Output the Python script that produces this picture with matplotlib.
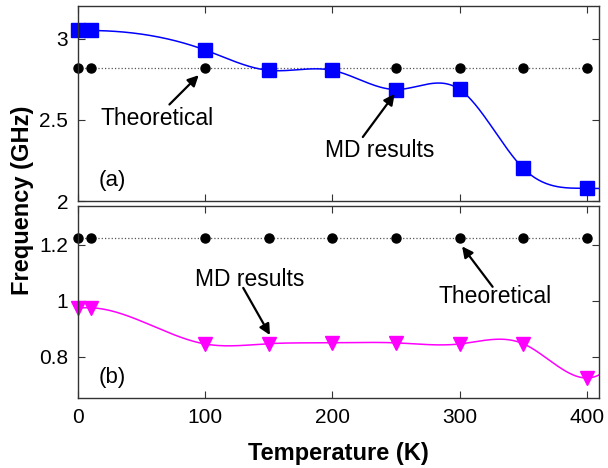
import matplotlib
matplotlib.use('Agg')
import matplotlib.pyplot as plt
import numpy as np

plt.rcParams['font.family'] = ['Liberation Sans', 'DejaVu Sans']

# data
temps = [0, 10, 100, 150, 200, 250, 300, 350, 400]
md_a = [3.05, 3.05, 2.93, 2.805, 2.805, 2.687, 2.688, 2.203, 2.08]
theo_a = [2.818] * len(temps)
md_b = [0.975, 0.975, 0.845, 0.846, 0.849, 0.849, 0.845, 0.846, 0.723]
theo_b = [1.225] * len(temps)
xticks = [0, 100, 200, 300, 400]


# clamped cubic spline (flat ends), only used to draw the smooth line
def spline(x, y, xs):
    x = np.asarray(x, float)
    y = np.asarray(y, float)
    n = len(x)
    h = np.diff(x)
    A = np.zeros((n, n))
    r = np.zeros(n)
    for i in range(1, n - 1):
        A[i, i - 1] = h[i - 1]
        A[i, i] = 2 * (h[i - 1] + h[i])
        A[i, i + 1] = h[i]
        r[i] = 6 * ((y[i + 1] - y[i]) / h[i] - (y[i] - y[i - 1]) / h[i - 1])
    A[0, 0], A[0, 1] = 2 * h[0], h[0]
    r[0] = 6 * ((y[1] - y[0]) / h[0])
    A[-1, -2], A[-1, -1] = h[-1], 2 * h[-1]
    r[-1] = 6 * (0 - (y[-1] - y[-2]) / h[-1])
    M = np.linalg.solve(A, r)
    k = np.clip(np.searchsorted(x, xs) - 1, 0, n - 2)
    t0 = x[k + 1] - xs
    t1 = xs - x[k]
    hk = h[k]
    return (M[k] * t0 ** 3 / (6 * hk) + M[k + 1] * t1 ** 3 / (6 * hk)
            + (y[k] / hk - M[k] * hk / 6) * t0
            + (y[k + 1] / hk - M[k + 1] * hk / 6) * t1)


def arrow(ax, tail, head):
    ax.annotate('', xy=head, xytext=tail,
                arrowprops=dict(arrowstyle='-|>', color='black', lw=1.6,
                                mutation_scale=16, shrinkA=0, shrinkB=0))


xs = np.linspace(0, 410, 420)

fig = plt.figure(figsize=(6.08, 4.68), dpi=100)
ax1 = fig.add_axes([0.128, 0.570, 0.858, 0.417])
ax2 = fig.add_axes([0.128, 0.150, 0.858, 0.410])

for ax in (ax1, ax2):
    ax.set_xlim(0, 410)
    ax.set_xticks(xticks)
    ax.tick_params(direction='in', top=True, right=True, length=5,
                   labelsize=15, color='#333333', pad=7)
    for s in ax.spines.values():
        s.set_color('#333333')
        s.set_linewidth(1.0)

# panel (a)
ax1.plot(temps, theo_a, ':', color='#555555', lw=0.9)
ax1.plot(temps, theo_a, 'o', color='black', ms=6.5, clip_on=False)
ax1.plot(xs, spline(temps, md_a, xs), '-', color='blue', lw=1.1)
ax1.plot(temps, md_a, 's', color='blue', ms=9.5, clip_on=False)
ax1.set_ylim(2, 3.2)
ax1.set_yticks([2, 2.5, 3])
ax1.set_yticklabels(['2', '2.5', '3'])
ax1.set_xticklabels([])
ax1.text(62, 2.51, 'Theoretical', fontsize=16.5, ha='center', va='center')
arrow(ax1, (72, 2.595), (95, 2.775))
ax1.text(237, 2.315, 'MD results', fontsize=16.5, ha='center', va='center')
arrow(ax1, (224, 2.395), (249, 2.66))
ax1.text(27, 2.13, '(a)', fontsize=16, ha='center', va='center')

# panel (b)
ax2.plot(temps, theo_b, ':', color='#555555', lw=0.9)
ax2.plot(temps, theo_b, 'o', color='black', ms=6.5, clip_on=False)
ax2.plot(xs, spline(temps, md_b, xs), '-', color='magenta', lw=1.1)
ax2.plot(temps, md_b, 'v', color='magenta', ms=10.5, clip_on=False)
ax2.set_ylim(0.652, 1.34)
ax2.set_yticks([0.8, 1.0, 1.2])
ax2.set_yticklabels(['0.8', '1', '1.2'])
ax2.text(135, 1.075, 'MD results', fontsize=16.5, ha='center', va='center')
arrow(ax2, (130, 1.046), (151, 0.877))
ax2.text(328, 1.014, 'Theoretical', fontsize=16.5, ha='center', va='center')
arrow(ax2, (326, 1.05), (302, 1.195))
ax2.text(27, 0.723, '(b)', fontsize=16, ha='center', va='center')
ax2.set_xlabel('Temperature (K)', fontsize=17, fontweight='bold', labelpad=11)

fig.text(0.037, 0.573, 'Frequency (GHz)', rotation=90, fontsize=17,
         fontweight='bold', ha='center', va='center')

fig.savefig('out.png', dpi=100)
